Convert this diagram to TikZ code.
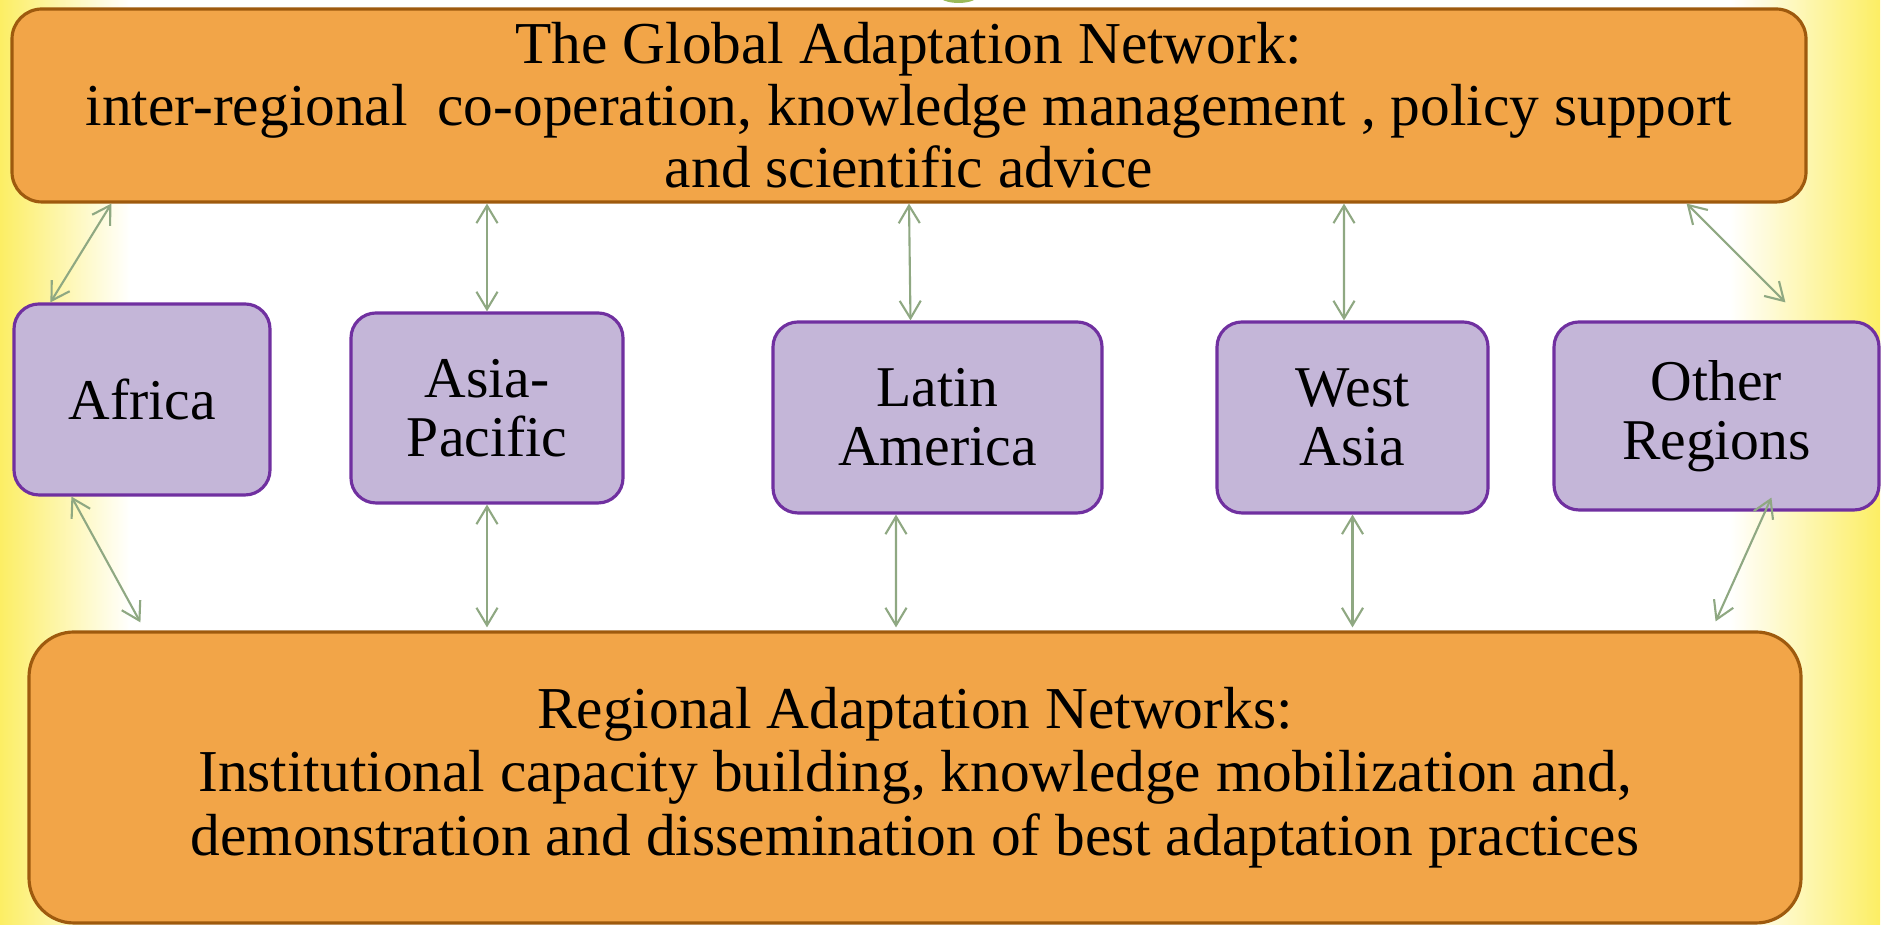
\documentclass[tikz,border=0pt]{standalone}
\usepackage{fontspec}
\setmainfont{Liberation Serif}
\usetikzlibrary{arrows.meta, calc}
\definecolor{netorange}{RGB}{242,165,72}
\definecolor{netbrown}{RGB}{158,90,14}
\definecolor{regionlilac}{RGB}{196,182,216}
\definecolor{regionpurple}{RGB}{112,48,160}
\definecolor{linkgreen}{RGB}{143,168,130}
\definecolor{edgeyellow}{RGB}{252,238,100}
\definecolor{dotgreen}{RGB}{155,187,89}
\tikzset{
  netbox/.style={draw=netbrown, fill=netorange, line width=0.9pt, inner sep=0pt, align=center,
    font=\fontsize{16.9}{17.6}\selectfont},
  regionbox/.style={draw=regionpurple, fill=regionlilac, line width=0.9pt, rounded corners=0.25cm,
    inner sep=0pt, minimum height=1.9cm, align=center, font=\fontsize{16.4}{16.8}\selectfont},
  link/.style={draw=linkgreen, line width=0.6pt, >={Straight Barb[length=5pt,width=6pt]}, <->}
}
\begin{document}
\begin{tikzpicture}
        \useasboundingbox (0,0) rectangle (18.85,9.25);
        
        % Background - yellow edges
        \shade[left color=edgeyellow, right color=white] (0,0) rectangle (1.3,9.25);
        \shade[left color=white, right color=edgeyellow] (17.3,0) rectangle (18.8,9.25);
        \fill[dotgreen] (9.585,9.30) ellipse (0.2 and 0.08);
        
        % Global network
        \node[netbox, rounded corners=0.3cm, minimum width=17.94cm, minimum height=1.93cm] (global) at (9.09,8.195)
            {The Global Adaptation Network:\\ inter-regional\ \ co-operation, knowledge management , policy support\\ and scientific advice};
        
        % Regions
        \node[regionbox, minimum width=2.56cm, minimum height=1.91cm] (africa) at (1.42,5.255) {Africa};
        \node[regionbox, minimum width=2.72cm] (asia) at (4.87,5.17) {Asia-\\Pacific};
        \node[regionbox, minimum width=3.29cm, minimum height=1.91cm] (latin) at (9.375,5.075) {Latin\\America};
        \node[regionbox, minimum width=2.71cm, minimum height=1.91cm] (westasia) at (13.525,5.075) {West\\Asia};
        \node[regionbox, minimum width=3.25cm, minimum height=1.88cm] (other) at (17.165,5.09) {Other\\Regions};
        
        % Regional networks
        \node[netbox, rounded corners=0.45cm, minimum width=17.72cm, minimum height=2.91cm,
              font=\fontsize{16.9}{18}\selectfont] (regional) at (9.15,1.475)
            {Regional Adaptation Networks:\\ Institutional capacity building, knowledge mobilization and,\\ demonstration and dissemination of best adaptation practices};
        
        % Links to the global network
        \draw[link] ([xshift=1.01cm]global.south west) -- ([xshift=0.38cm]africa.north west);
        \draw[link] (asia.north |- global.south) -- (asia.north);
        \draw[link] (global.south) -- ([xshift=-0.27cm]latin.north);
        \draw[link] ([xshift=4.35cm]global.south) -- ([xshift=-0.085cm]westasia.north);
        \draw[link] ([xshift=-1.21cm]global.south east) -- ([xshift=2.33cm,yshift=0.18cm]other.north west);
        
        % Links to the regional networks
        \draw[link] ([xshift=0.59cm]africa.south west) -- ([xshift=1.13cm,yshift=0.08cm]regional.north west);
        \draw[link] (asia.south) -- ([yshift=0.03cm]asia.south |- regional.north);
        \draw[link] ([xshift=-0.415cm]latin.south) -- ([xshift=-0.19cm,yshift=0.03cm]regional.north);
        \draw[link] (westasia.south) -- ([yshift=0.03cm]westasia.south |- regional.north);
        \draw[link] ([xshift=2.19cm,yshift=0.14cm]other.south west) -- ([xshift=-0.87cm,yshift=0.09cm]regional.north east);
\end{tikzpicture}
\end{document}
